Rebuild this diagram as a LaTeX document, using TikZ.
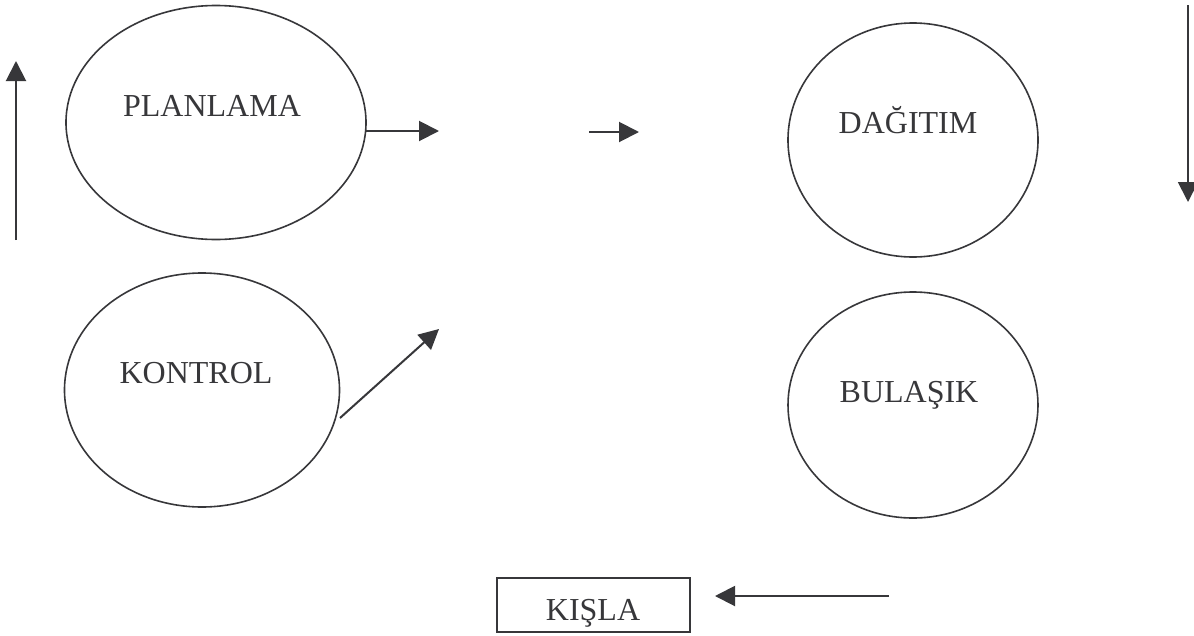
\documentclass[tikz,border=0pt]{standalone}
\usepackage{fontspec}
\setmainfont{Liberation Serif}
\usetikzlibrary{arrows.meta,shapes.geometric}
\definecolor{ink}{RGB}{55,55,58}
\begin{document}
\begin{tikzpicture}[x=1pt,y=-1pt,
  bubble/.style={draw=ink,line width=1.6pt,ellipse,inner sep=0pt},
  framebox/.style={draw=ink,line width=1.6pt,rectangle,inner sep=0pt},
  caption/.style={anchor=base,text=ink,inner sep=0pt,font=\fontsize{32}{38}\selectfont},
  flow/.style={draw=ink,line width=2pt,-{Triangle[length=20pt,width=20pt]}}]
\useasboundingbox (0,0) rectangle (1194,635);

% stations
\node[bubble,minimum width=300pt,minimum height=234pt] (plan) at (216,122.5) {};
\node[caption] (planT) at (212,116) {PLANLAMA};
\node[bubble,minimum width=250pt,minimum height=234pt] (dag) at (913,140) {};
\node[caption] (dagT) at (908,133) {DAĞITIM};
\node[bubble,minimum width=275pt,minimum height=234pt] (kon) at (202,390) {};
\node[caption] (konT) at (196,383) {KONTROL};
\node[bubble,minimum width=250pt,minimum height=226pt] (bul) at (913,405) {};
\node[caption] (bulT) at (909,402) {BULAŞIK};
\node[framebox,minimum width=193pt,minimum height=54pt] (kisla) at (593.5,605) {};
\node[caption] (kislaT) at (593,620) {KIŞLA};

% arrow ends
\coordinate (upFrom) at (16,240);
\coordinate (upTo) at (16,61);
\coordinate (planOut) at (366,131);
\coordinate (planTo) at (439,131);
\coordinate (midFrom) at (589,132);
\coordinate (midTo) at (639,132);
\coordinate (downFrom) at (1188,5);
\coordinate (downTo) at (1188,202);
\coordinate (konOut) at (340,418);
\coordinate (konTo) at (439,329);
\coordinate (backFrom) at (889,596);
\coordinate (backTo) at (715,596);

% arrows
\draw[flow] (upFrom) -- (upTo);
\draw[flow] (planOut) -- (planTo);
\draw[flow] (midFrom) -- (midTo);
\draw[flow] (downFrom) -- (downTo);
\draw[flow] (konOut) -- (konTo);
\draw[flow] (backFrom) -- (backTo);
\end{tikzpicture}
\end{document}
